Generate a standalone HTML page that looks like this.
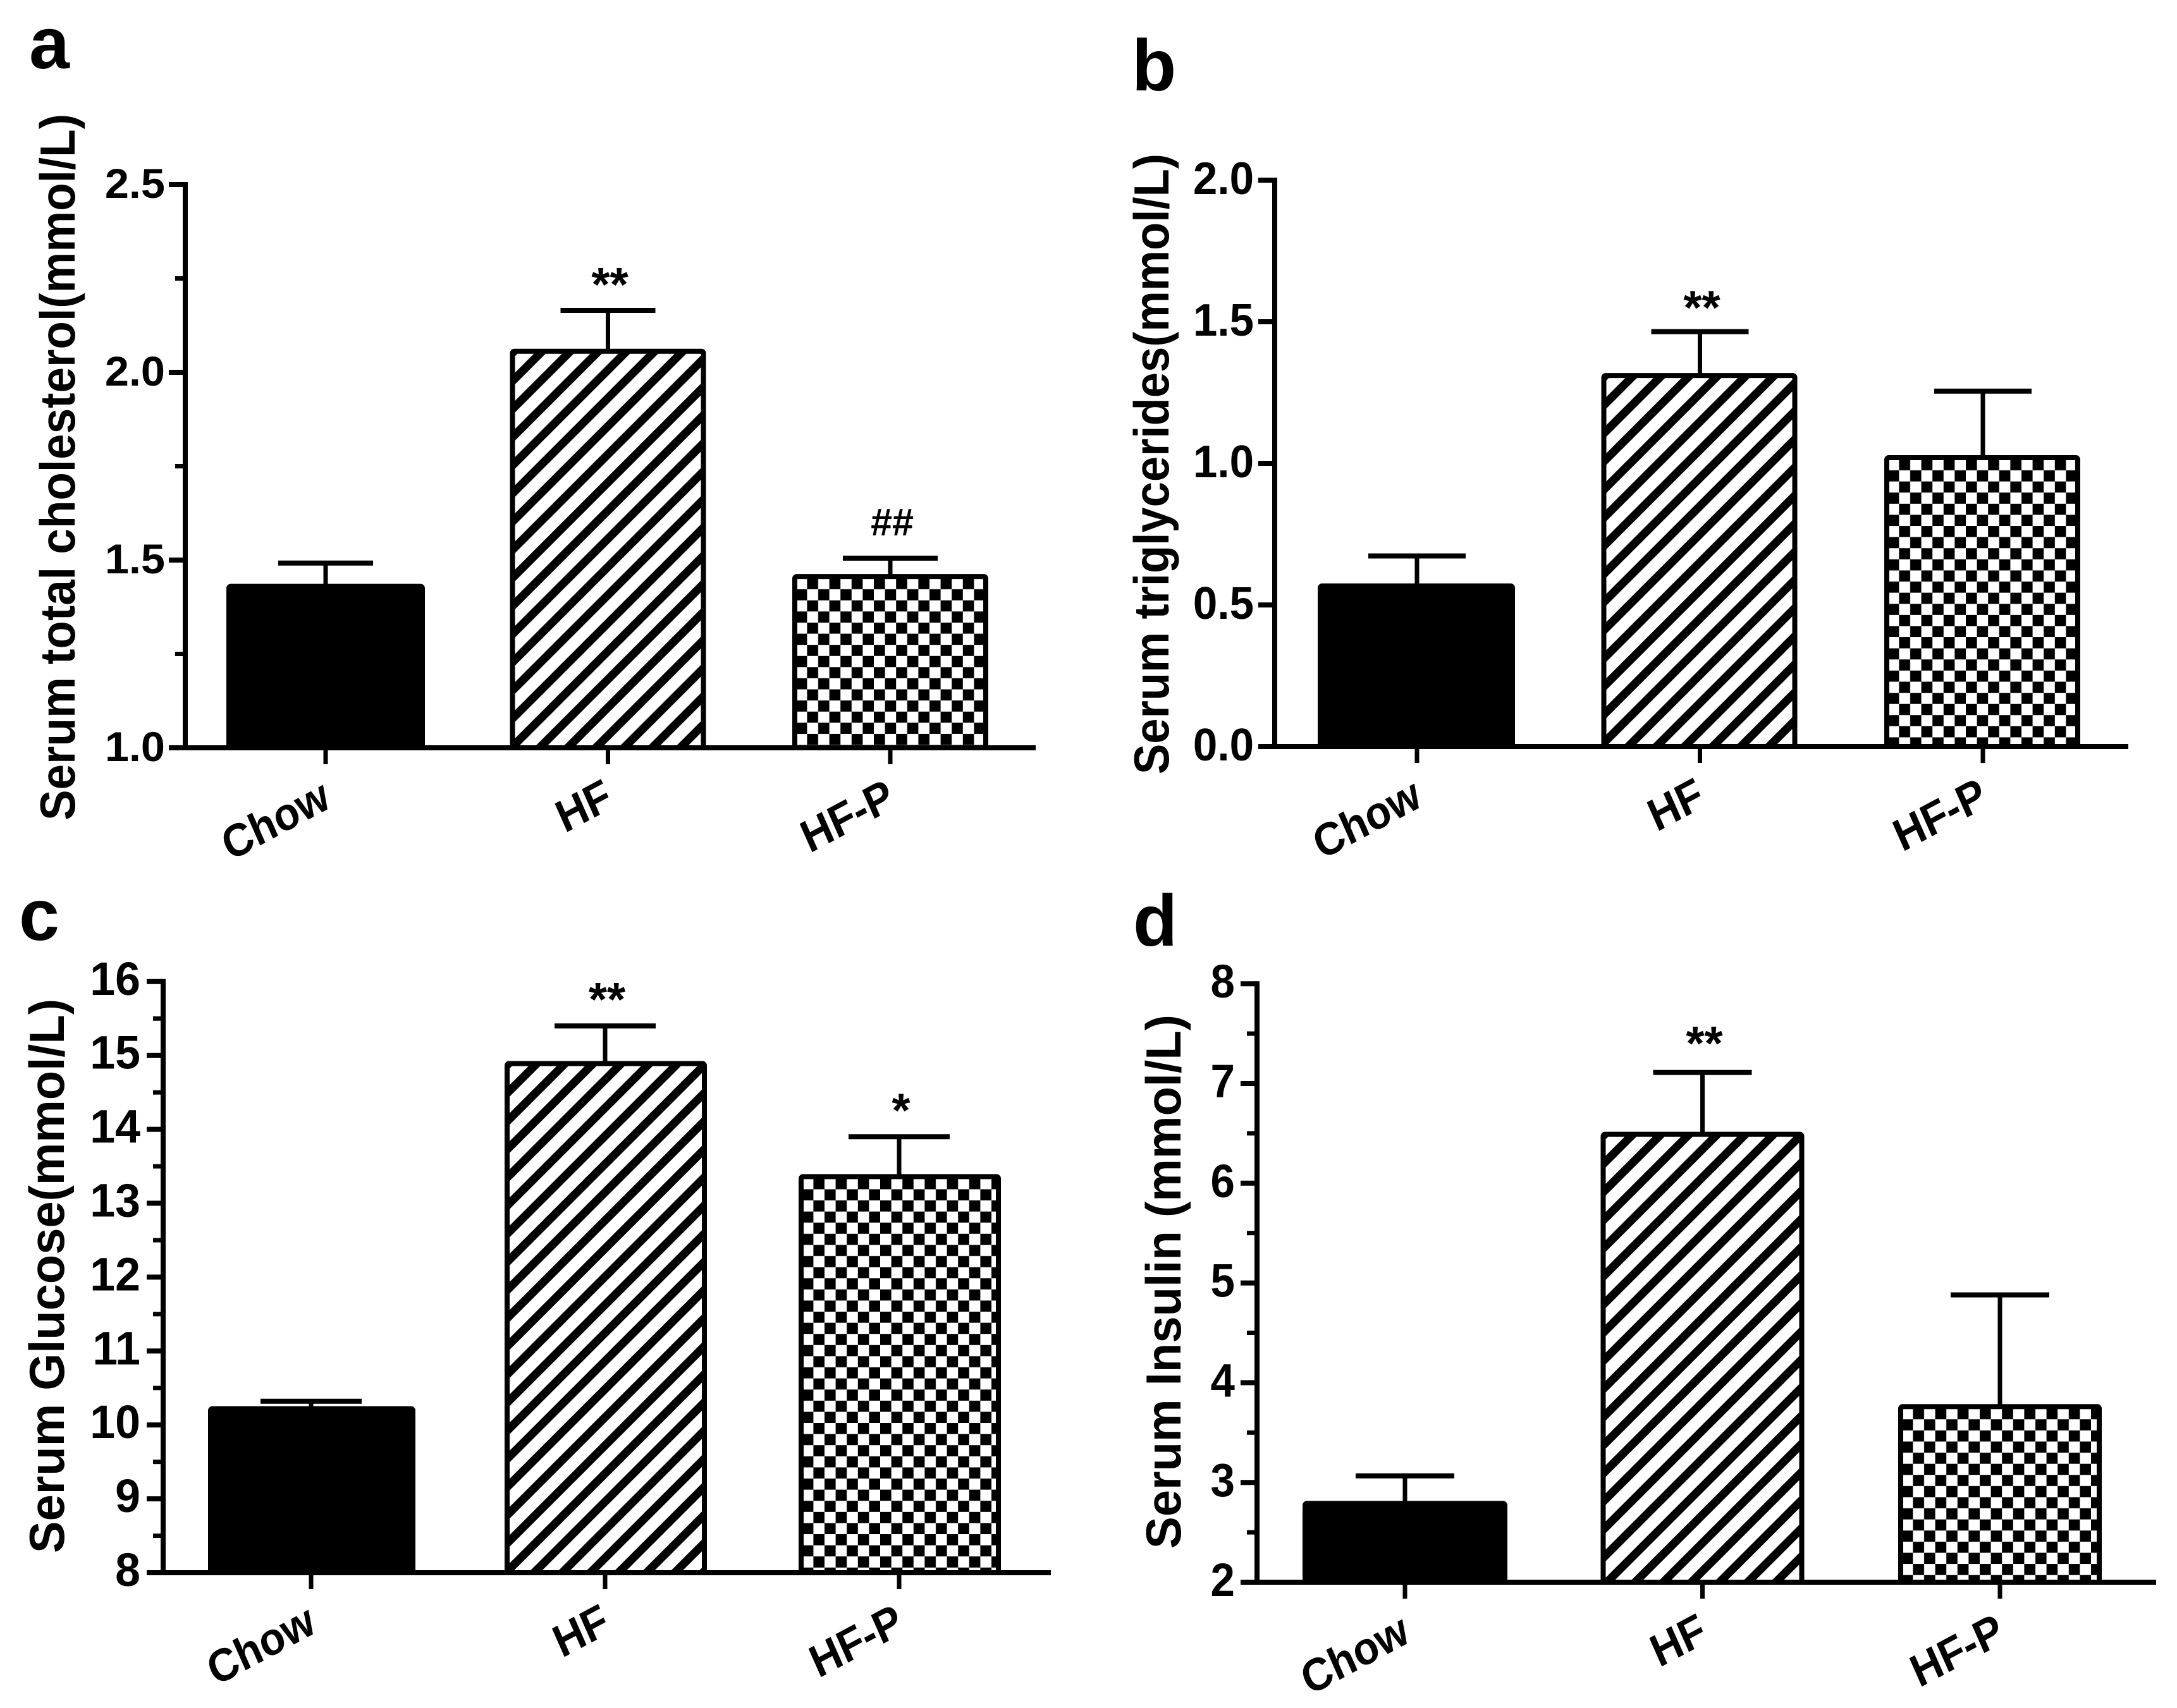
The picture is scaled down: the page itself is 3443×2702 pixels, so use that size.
<!DOCTYPE html>
<html lang="en">
<head>
<meta charset="utf-8">
<title>Serum lipid, glucose and insulin bar charts</title>
<style>
  html, body { margin: 0; padding: 0; background: #fff; }
  svg { display: block; }
  text { font-family: "Liberation Sans", Arial, sans-serif; font-weight: bold; fill: #000; }
</style>
</head>
<body>
<svg id="figure" xmlns="http://www.w3.org/2000/svg" width="3443" height="2702" viewBox="0 0 3443 2702">
  <rect x="0" y="0" width="3443" height="2702" fill="#fff"/>
  <defs id="fills"></defs>

  <g id="panel-a">
    <text x="46" y="108" font-size="115">a</text>
    <text transform="translate(118,1298) rotate(-90)" font-size="78" textLength="1118" lengthAdjust="spacingAndGlyphs">Serum total cholesterol(mmol/L)</text>
  </g>
  <g id="panel-b">
    <text x="1790" y="143" font-size="115">b</text>
    <text transform="translate(1848,1225) rotate(-90)" font-size="78" textLength="982" lengthAdjust="spacingAndGlyphs">Serum triglycerides(mmol/L)</text>
  </g>
  <g id="panel-c">
    <text x="30" y="1487" font-size="115">c</text>
    <text transform="translate(101,2457) rotate(-90)" font-size="78" textLength="877" lengthAdjust="spacingAndGlyphs">Serum Glucose(mmol/L)</text>
  </g>
  <g id="panel-d">
    <text x="1792" y="1496" font-size="115">d</text>
    <text transform="translate(1867,2450) rotate(-90)" font-size="78" textLength="845" lengthAdjust="spacingAndGlyphs">Serum Insulin (mmol/L)</text>
  </g>
</svg>

<script>
const categories = ['Chow', 'HF', 'HF-P'];

const cholesterolMeans = [1.43, 2.056, 1.456];
const cholesterolUpper = [1.492, 2.165, 1.505];
const cholesterolMarks = ['', '**', '##'];
const cholesterolTicks = ['1.0', '1.5', '2.0', '2.5'];
const cholesterolMinorTicks = [1.25, 1.75, 2.25];

const triglycerideMeans = [0.567, 1.31, 1.02];
const triglycerideUpper = [0.673, 1.465, 1.255];
const triglycerideMarks = ['', '**', ''];
const triglycerideTicks = ['0.0', '0.5', '1.0', '1.5', '2.0'];
const triglycerideMinorTicks = [];

const glucoseMeans = [10.22, 14.89, 13.36];
const glucoseUpper = [10.32, 15.4, 13.9];
const glucoseMarks = ['', '**', '*'];
const glucoseTicks = ['8', '9', '10', '11', '12', '13', '14', '15', '16'];
const glucoseMinorTicks = [8.5, 9.5, 10.5, 11.5, 12.5, 13.5, 14.5, 15.5];

const insulinMeans = [2.79, 6.49, 3.76];
const insulinUpper = [3.066, 7.11, 4.88];
const insulinMarks = ['', '**', ''];
const insulinTicks = ['2', '3', '4', '5', '6', '7', '8'];
const insulinMinorTicks = [2.5, 3.5, 4.5, 5.5, 6.5, 7.5];

const SVG_NS = 'http://www.w3.org/2000/svg';
const defs = document.getElementById('fills');

function make(tag, parent, attrs) {
  const el = document.createElementNS(SVG_NS, tag);
  for (const k in attrs) el.setAttribute(k, attrs[k]);
  parent.appendChild(el);
  return el;
}

function stripePattern(id, left, top) {
  const period = 44.5;
  const phase = ((left + top + 55) % period);
  const p = make('pattern', defs, { id: id, patternUnits: 'userSpaceOnUse', width: period, height: period, x: phase, y: 0 });
  make('rect', p, { x: 0, y: 0, width: period, height: period, fill: '#fff' });
  make('path', p, { d: 'M-10,10 L10,-10 M-5,49.5 L49.5,-5 M34.5,54.5 L54.5,34.5', stroke: '#000', 'stroke-width': 13, fill: 'none' });
}

function checkPattern(id, left, top) {
  const cell = 17.6;
  const p = make('pattern', defs, { id: id, patternUnits: 'userSpaceOnUse', width: cell * 2, height: cell * 2, x: left + 23.4, y: top + 6.4 });
  make('rect', p, { x: 0, y: 0, width: cell * 2, height: cell * 2, fill: '#fff' });
  make('rect', p, { x: 0, y: 0, width: cell, height: cell, fill: '#000' });
  make('rect', p, { x: cell, y: cell, width: cell, height: cell, fill: '#000' });
}

function drawPanel(cfg) {
  const g = document.getElementById(cfg.id);
  const yScale = v => cfg.yBase - (v - cfg.vMin) * cfg.pxPerUnit;
  const xScale = i => cfg.x0 + i * cfg.step;

  // bars, error bars, significance marks
  categories.forEach((cat, i) => {
    const cx = xScale(i);
    const yTop = yScale(cfg.means[i]);
    const yCap = yScale(cfg.upper[i]);
    const half = i === 0 ? cfg.half + cfg.firstExtra : cfg.half;
    const left = cx + cfg.barShift - half;
    let fill = '#000';
    if (i === 1) {
      stripePattern(cfg.id + '-stripes', left - 4, yTop - 4);
      fill = 'url(#' + cfg.id + '-stripes)';
    }
    if (i === 2) {
      checkPattern(cfg.id + '-checks', left - 4, yTop - 4);
      fill = 'url(#' + cfg.id + '-checks)';
    }

    const stem = make('line', g, { x1: cx, x2: cx, y1: yCap, y2: yTop, stroke: '#000', 'stroke-width': 7 });
    
    

    const cap = make('line', g, { x1: cx - cfg.capHalf, x2: cx + cfg.capHalf, y1: yCap, y2: yCap, stroke: '#000', 'stroke-width': 8 });
    
    

    const bar = make('rect', g, { x: left, y: yTop, width: half * 2, height: cfg.yBase - yTop, rx: 3, fill: fill, stroke: '#000', 'stroke-width': 8 });
    
    

    if (cfg.marks[i]) {
      const isHash = cfg.marks[i] === '##';
      const mark = make('text', g, {
        x: cx + 3,
        y: isHash ? yCap - 36 : yCap - cfg.markLift + 34,
        'font-size': isHash ? 61 : 75,
        'text-anchor': 'middle'
      });
      mark.textContent = cfg.marks[i];
      
      
    }

    const tick = make('line', g, { x1: cx, x2: cx, y1: cfg.yBase, y2: cfg.yBase + 26, stroke: '#000', 'stroke-width': 7 });
    
    

    const label = make('text', g, {
      transform: 'translate(' + (cx + 11) + ',' + (cfg.yBase + 93) + ') scale(1,1.1) rotate(-26)',
      'font-size': 66,
      'text-anchor': 'end'
    });
    label.textContent = cat;
    
    
  });

  // y axis ticks
  cfg.ticks.forEach(t => {
    const y = yScale(parseFloat(t));
    const tick = make('line', g, { x1: cfg.axisX - 26, x2: cfg.axisX, y1: y, y2: y, stroke: '#000', 'stroke-width': 8 });
    
    

    const label = make('text', g, {
      transform: 'translate(' + cfg.labelRight + ',' + (y + cfg.labelDrop) + ') scale(' + cfg.textSx + ',' + cfg.textSy + ')',
      'font-size': 64,
      'text-anchor': 'end'
    });
    label.textContent = t;
    
    
  });

  cfg.minor.forEach(v => {
    const y = yScale(v);
    const tick = make('line', g, { x1: cfg.axisX - 16, x2: cfg.axisX, y1: y, y2: y, stroke: '#000', 'stroke-width': 7 });
    
    
  });

  const topValue = parseFloat(cfg.ticks[cfg.ticks.length - 1]);
  const yAxis = make('line', g, { x1: cfg.axisX, x2: cfg.axisX, y1: yScale(topValue) - 4, y2: cfg.yBase, stroke: '#000', 'stroke-width': 8 });
  
  

  const xAxis = make('line', g, { x1: cfg.axisX - 26, x2: cfg.xEnd, y1: cfg.yBase, y2: cfg.yBase, stroke: '#000', 'stroke-width': 8 });
  
  
}

drawPanel({
  id: 'panel-a', means: cholesterolMeans, upper: cholesterolUpper, marks: cholesterolMarks,
  ticks: cholesterolTicks, minor: cholesterolMinorTicks,
  vMin: 1, yBase: 1183, pxPerUnit: 594, axisX: 293, xEnd: 1638,
  x0: 515, step: 446.5, half: 151, firstExtra: 2, barShift: 0, capHalf: 75, markLift: 49,
  labelRight: 261, labelDrop: 21, textSx: 1.07, textSy: 1.03
});
drawPanel({
  id: 'panel-b', means: triglycerideMeans, upper: triglycerideUpper, marks: triglycerideMarks,
  ticks: triglycerideTicks, minor: triglycerideMinorTicks,
  vMin: 0, yBase: 1181, pxPerUnit: 448, axisX: 2016, xEnd: 3366,
  x0: 2241, step: 447.5, half: 151, firstExtra: 1, barShift: -1, capHalf: 77, markLift: 46,
  labelRight: 1983, labelDrop: 22, textSx: 1.08, textSy: 1.13
});
drawPanel({
  id: 'panel-c', means: glucoseMeans, upper: glucoseUpper, marks: glucoseMarks,
  ticks: glucoseTicks, minor: glucoseMinorTicks,
  vMin: 8, yBase: 2488, pxPerUnit: 116.9, axisX: 258, xEnd: 1662,
  x0: 492, step: 465, half: 156, firstExtra: 4, barShift: 1, capHalf: 80, markLift: 50,
  labelRight: 222, labelDrop: 21, textSx: 1.12, textSy: 1.16
});
drawPanel({
  id: 'panel-d', means: insulinMeans, upper: insulinUpper, marks: insulinMarks,
  ticks: insulinTicks, minor: insulinMinorTicks,
  vMin: 2, yBase: 2503, pxPerUnit: 157.8, axisX: 1988, xEnd: 3410,
  x0: 2222, step: 470.5, half: 157, firstExtra: 1, barShift: 0, capHalf: 78, markLift: 54,
  labelRight: 1953, labelDrop: 22, textSx: 1.08, textSy: 1.16
});
</script>
</body>
</html>
